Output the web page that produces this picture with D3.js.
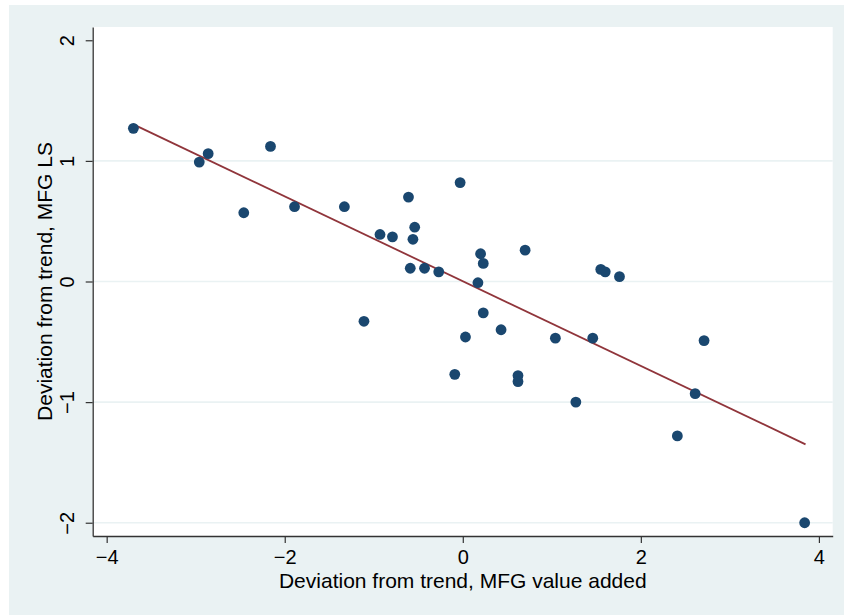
<!DOCTYPE html>
<html>
<head>
<meta charset="utf-8">
<script src="https://cdn.jsdelivr.net/npm/d3@7"></script>
<style>
	body { margin: 0; background: #ffffff; }
	svg text { font-family: "Liberation Sans", Arial, Helvetica, sans-serif; fill: #000; }
</style>
</head>
<body>
<svg id="scatter" width="844" height="615"></svg>
<script>
// deviation from trend, MFG value added
var xValues = [-3.70, -2.96, -2.86, -2.16, -2.46, -1.89, -1.33, -1.11, -0.93, -0.79,
	-0.61, -0.54, -0.56, -0.59, -0.43, -0.27, -0.03, -0.09, 0.03, 0.17,
	0.20, 0.23, 0.23, 0.43, 0.70, 0.62, 0.62, 1.04, 1.27, 1.46,
	1.55, 1.60, 1.76, 2.41, 2.61, 2.71, 3.84];
// deviation from trend, MFG LS
var yValues = [1.27, 0.99, 1.06, 1.12, 0.57, 0.62, 0.62, -0.33, 0.39, 0.37,
	0.70, 0.45, 0.35, 0.11, 0.11, 0.08, 0.82, -0.77, -0.46, -0.01,
	0.23, 0.15, -0.26, -0.40, 0.26, -0.78, -0.83, -0.47, -1.00, -0.47,
	0.10, 0.08, 0.04, -1.28, -0.93, -0.49, -2.00];
// fitted line end points
var fitX = [-3.70, 3.85];
var fitY = [1.303, -1.350];

var xTicks = [-4, -2, 0, 2, 4];
var yTicks = [-2, -1, 0, 1, 2];
var yGrid = [-2, -1, 0, 1];

var svg = d3.select("#scatter"),
	margin = {top: 27, left: 92.7, bottom: 79, right: 11.3},
	width = +svg.attr("width"),
	height = +svg.attr("height");

var x = d3.scaleLinear()
	.domain([-4.157, 4.155])
	.range([margin.left, width - margin.right]);

var y = d3.scaleLinear()
	.domain([-2.11, 2.11])
	.range([height - margin.bottom, margin.top]);

// outer (graph) region
svg.append("rect")
	.attr("x", 9).attr("y", 5)
	.attr("width", width - 9).attr("height", height - 5)
	.attr("fill", "#EAF2F3");

// plot region
svg.append("rect")
	.attr("x", margin.left).attr("y", margin.top)
	.attr("width", width - margin.right - margin.left)
	.attr("height", height - margin.bottom - margin.top)
	.attr("fill", "#ffffff");

svg.append("g")
	.selectAll("line")
	.data(yGrid)
	.enter().append("line")
	.attr("x1", margin.left).attr("x2", width - margin.right)
	.attr("y1", d => y(d)).attr("y2", d => y(d))
	.attr("stroke", "#EAF2F3")
	.attr("stroke-width", 1.6);

var xAxis = svg.append("g")
	.attr("class", "x-axis")
	.attr("transform", `translate(0,${height - margin.bottom})`)
	.call(d3.axisBottom(x).tickValues(xTicks).tickFormat(d3.format("d")).tickSize(7).tickSizeOuter(0));

xAxis.selectAll(".tick text")
	.attr("y", 14)
	.attr("dy", "0.71em")
	.style("font-size", "20px");

var yAxis = svg.append("g")
	.attr("class", "y-axis")
	.attr("transform", `translate(${margin.left},0)`)
	.call(d3.axisLeft(y).tickValues(yTicks).tickFormat(d3.format("d")).tickSize(7).tickSizeOuter(0));

yAxis.selectAll(".tick text")
	.attr("transform", "rotate(-90)")
	.attr("x", 0)
	.attr("y", -19)
	.attr("dy", 0)
	.attr("text-anchor", "middle")
	.style("font-size", "20px");

svg.selectAll(".domain").attr("stroke", "#333").attr("stroke-width", 1.3);
svg.selectAll(".tick line").attr("stroke", "#333").attr("stroke-width", 1.2);

// fitted values
svg.append("line")
	.attr("x1", x(fitX[0])).attr("y1", y(fitY[0]))
	.attr("x2", x(fitX[1])).attr("y2", y(fitY[1]))
	.attr("stroke", "#90353B")
	.attr("stroke-width", 1.8);

svg.append("g")
	.selectAll("circle")
	.data(xValues)
	.enter().append("circle")
	.attr("cx", d => x(d))
	.attr("cy", (d, i) => y(yValues[i]))
	.attr("r", 5.4)
	.attr("fill", "#1A476F");

svg.append("text")
	.attr("x", x(0))
	.attr("y", 588)
	.attr("text-anchor", "middle")
	.style("font-size", "21px")
	.text("Deviation from trend, MFG value added");

svg.append("text")
	.attr("transform", `translate(52,${y(0)}) rotate(-90)`)
	.attr("text-anchor", "middle")
	.style("font-size", "21px")
	.text("Deviation from trend, MFG LS");
</script>
</body>
</html>
